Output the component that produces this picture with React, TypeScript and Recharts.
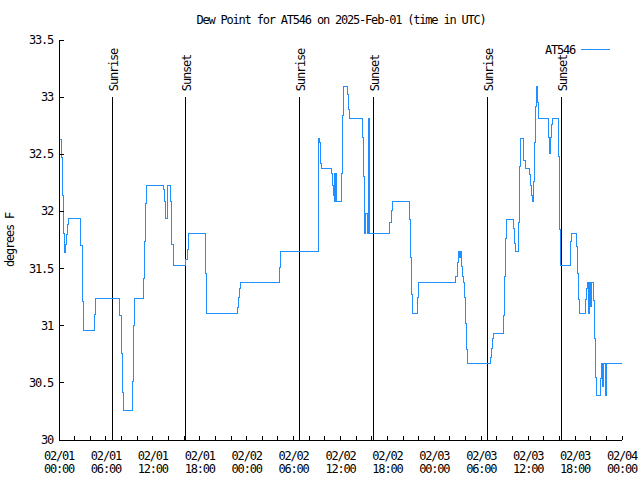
import React from 'react';
import { LineChart, Line, XAxis, YAxis, ReferenceLine } from 'recharts';

// time axis is hours since 02/01 00:00 UTC
const hours = [
  // 02/01
  0.1, 0.34, 0.43, 0.55, 0.68, 0.85, 0.98, 1.11, 1.19, 2.81,
  2.98, 3.11, 4.6, 4.73, 7.8, 8.01, 8.14, 8.23, 9.37, 9.51,
  9.63, 10.78, 10.91, 11.04, 11.17, 13.34, 13.47, 13.6, 13.68, 13.85,
  14.32, 14.45, 14.62, 16.24, 16.37, 16.5, 16.62, 18.75, 18.88, 22.8,
  22.93, 23.06, 23.18,
  // 02/02
  28.18, 28.3, 33.16, 33.25, 33.33, 33.42, 33.5, 33.63, 34.87, 34.99,
  35.08, 35.17, 35.29, 35.42, 35.51, 36.1, 36.23, 36.36, 36.87, 37.0,
  37.13, 38.79, 38.91, 39.04, 39.13, 39.26, 39.39, 39.55, 39.68, 39.77,
  42.33, 42.46, 42.63, 44.8, 44.93, 45.06, 45.18, 45.82, 45.95,
  // 02/03
  50.77, 50.94, 51.11, 51.19, 51.36, 51.45, 51.62, 51.75, 51.88, 52.0,
  52.13, 52.22, 55.24, 55.37, 55.5, 55.63, 56.82, 56.95, 57.08, 57.2,
  58.1, 58.23, 58.35, 58.82, 58.95, 59.08, 59.34, 59.46, 59.63, 60.23,
  60.36, 60.49, 60.61, 60.74, 60.87, 61.0, 61.08, 61.17, 61.3, 62.66,
  62.79, 62.92, 63.04, 63.17, 63.85, 63.98, 64.11, 65.35, 65.47, 65.6,
  66.24, 66.37, 66.5, 66.62, 67.31, 67.43, 67.56, 67.69, 67.82, 67.94,
  68.07, 68.33, 68.46, 68.58, 68.71, 69.31, 69.44, 69.57, 69.69, 69.87,
  70.04, 72.0,
];

const dewPoint = [
  // 02/01
  32.63, 32.47, 32.14, 31.81, 31.64, 31.71, 31.8, 31.89, 31.94, 31.7,
  31.21, 30.96, 31.1, 31.24, 31.09, 30.76, 30.42, 30.26, 30.51, 31.0,
  31.24, 31.41, 31.74, 32.07, 32.23, 32.19, 32.09, 31.99, 31.94, 32.23,
  32.09, 31.71, 31.53, 31.58, 31.67, 31.76, 31.81, 31.46, 31.11, 31.16,
  31.25, 31.33, 31.38,
  // 02/02
  31.51, 31.65, 32.14, 32.64, 32.6, 32.51, 32.42, 32.38, 32.33, 32.23,
  32.14, 32.33, 32.09, 32.33, 32.09, 32.33, 32.84, 33.09, 33.02, 32.89,
  32.81, 32.65, 32.31, 31.98, 31.81, 31.98, 31.81, 32.81, 32.31, 31.81,
  31.9, 32.01, 32.09, 31.93, 31.6, 31.27, 31.11, 31.25, 31.38,
  // 02/03
  31.43, 31.55, 31.65, 31.6, 31.65, 31.52, 31.43, 31.38, 31.25, 31.02,
  30.79, 30.67, 30.72, 30.8, 30.89, 30.93, 31.09, 31.43, 31.76, 31.93,
  31.85, 31.72, 31.65, 31.9, 32.39, 32.64, 32.57, 32.45, 32.38, 32.32,
  32.23, 32.14, 32.09, 32.26, 32.6, 32.92, 33.09, 32.95, 32.81, 32.65,
  32.51, 32.65, 32.76, 32.81, 32.48, 31.84, 31.53, 31.6, 31.74, 31.81,
  31.69, 31.46, 31.23, 31.11, 31.23, 31.33, 31.38, 31.11, 31.38, 31.17,
  31.38, 31.22, 30.89, 30.55, 30.39, 30.54, 30.67, 30.47, 30.67, 30.39,
  30.67, 30.67,
];

const xTicks = [
  0, 2, 4, 6, 8, 10, 12, 14, 16, 18, 20, 22, 24, 26, 28, 30, 32, 34, 36,
  38, 40, 42, 44, 46, 48, 50, 52, 54, 56, 58, 60, 62, 64, 66, 68, 70, 72,
];
const xTickDates = ['02/01', '02/01', '02/01', '02/01', '02/02', '02/02', '02/02', '02/02', '02/03', '02/03', '02/03', '02/03', '02/04'];
const xTickTimes = ['00:00', '06:00', '12:00', '18:00', '00:00', '06:00', '12:00', '18:00', '00:00', '06:00', '12:00', '18:00', '00:00'];
const yTicks = [30, 30.5, 31, 31.5, 32, 32.5, 33, 33.5];

const sunHours = [6.82, 16.16, 30.73, 40.2, 54.77, 64.24];
const sunLabels = ['Sunrise', 'Sunset', 'Sunrise', 'Sunset', 'Sunrise', 'Sunset'];
const sunLineTop = 33;

const chartData = hours.map((h, i) => ({ h, dew: dewPoint[i] }));

const txt = {
  fontFamily: "'DejaVu Sans Mono', monospace",
  fontSize: 12,
  letterSpacing: -1.2,
  fill: '#000',
};

const BottomTick = ({ x, y, payload }: any) => {
  const v = payload.value;
  const i = v / 6;
  return (
    <g>
      <line x1={x} y1={y} x2={x} y2={y - 4} stroke="#000" />
      {v % 6 === 0 && (
        <text textAnchor="middle" style={txt}>
          <tspan x={x} y={y + 20}>{xTickDates[i]}</tspan>
          <tspan x={x} y={y + 33}>{xTickTimes[i]}</tspan>
        </text>
      )}
    </g>
  );
};

const TopTick = ({ x, y }: any) => (
  <line x1={x} y1={y} x2={x} y2={y + 4} stroke="#000" />
);

const LeftTick = ({ x, y, payload }: any) => (
  <g>
    <line x1={x} y1={y} x2={x + 5} y2={y} stroke="#000" />
    <text x={x - 6} y={y + 4} textAnchor="end" style={txt}>
      {payload.value}
    </text>
  </g>
);

const RightTick = ({ x, y }: any) => (
  <line x1={x} y1={y} x2={x - 5} y2={y} stroke="#000" />
);

const sunLabel = (text: string) => (props: any) => {
  const vb = props.viewBox;
  const x = vb.x + 2;
  const y = vb.y - 6;
  return (
    <text
      x={x}
      y={y}
      transform={`rotate(-90, ${x}, ${y})`}
      textAnchor="start"
      dominantBaseline="central"
      style={txt}
    >
      {text}
    </text>
  );
};

export default function App() {
  return (
    <div style={{ position: 'absolute', left: 0, top: 0, width: 640, height: 480, background: '#fff' }}>
      <LineChart
        width={640}
        height={480}
        data={chartData}
        margin={{ top: 40, right: 18, bottom: 0, left: 0 }}
        style={{ shapeRendering: 'crispEdges' }}
      >
        <XAxis
          xAxisId="b"
          dataKey="h"
          type="number"
          domain={[0, 72]}
          ticks={xTicks}
          interval={0}
          height={40}
          tickSize={0}
          tickMargin={0}
          tickLine={false}
          axisLine={{ stroke: '#000' }}
          tick={<BottomTick />}
          allowDataOverflow
        />
        <XAxis
          xAxisId="t"
          orientation="top"
          dataKey="h"
          type="number"
          domain={[0, 72]}
          ticks={xTicks}
          interval={0}
          height={0}
          tickSize={0}
          tickMargin={0}
          tickLine={false}
          axisLine={{ stroke: '#000' }}
          tick={<TopTick />}
        />
        <YAxis
          yAxisId="l"
          type="number"
          domain={[30, 33.5]}
          ticks={yTicks}
          interval={0}
          width={59}
          tickSize={0}
          tickMargin={0}
          tickLine={false}
          axisLine={{ stroke: '#000' }}
          tick={<LeftTick />}
          allowDataOverflow
        />
        <YAxis
          yAxisId="r"
          orientation="right"
          type="number"
          domain={[30, 33.5]}
          ticks={yTicks}
          interval={0}
          width={0}
          tickSize={0}
          tickMargin={0}
          tickLine={false}
          axisLine={{ stroke: '#000' }}
          tick={<RightTick />}
        />
        {sunHours.map((h, i) => (
          <ReferenceLine
            key={i}
            xAxisId="b"
            yAxisId="l"
            segment={[{ x: h, y: 30 }, { x: h, y: sunLineTop }]}
            stroke="#000"
            strokeWidth={1}
            label={sunLabel(sunLabels[i])}
          />
        ))}
        <Line
          xAxisId="b"
          yAxisId="l"
          type="stepAfter"
          dataKey="dew"
          stroke="#1e90ff"
          strokeWidth={1}
          dot={false}
          isAnimationActive={false}
        />
        <text x={341} y={24} textAnchor="middle" style={txt}>
          Dew Point for AT546 on 2025-Feb-01 (time in UTC)
        </text>
        <text x={14} y={240} transform="rotate(-90, 14, 240)" textAnchor="middle" style={txt}>
          degrees F
        </text>
        <text x={575} y={54} textAnchor="end" style={txt}>
          AT546
        </text>
        <line x1={581} y1={49} x2={610} y2={49} stroke="#1e90ff" />
      </LineChart>
    </div>
  );
}
